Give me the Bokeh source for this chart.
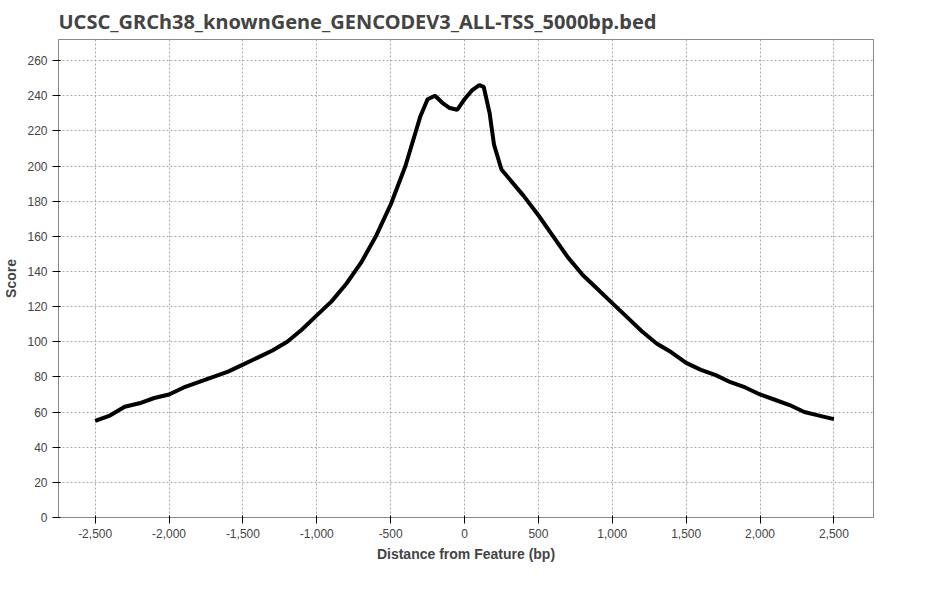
from bokeh.plotting import figure
from bokeh.models import Legend, NumeralTickFormatter, SingleIntervalTicker, Range1d
from bokeh.embed import file_html
from bokeh.resources import INLINE

distance = [-2500, -2400, -2300, -2200, -2100, -2000, -1900, -1800, -1700, -1600,
            -1500, -1400, -1300, -1200, -1100, -1000, -900, -800, -700, -600,
            -500, -400, -300, -250, -200, -150, -100, -50, 0, 50, 100, 130, 170,
            200, 250, 300, 400, 500, 600, 700, 800, 900, 1000, 1100, 1200, 1300,
            1400, 1500, 1600, 1700, 1800, 1900, 2000, 2100, 2200, 2300, 2400, 2500]
score = [55, 58, 63, 65, 68, 70, 74, 77, 80, 83,
         87, 91, 95, 100, 107, 115, 123, 133, 145, 160,
         178, 200, 228, 238, 240, 236, 233, 232, 238, 243, 246, 245, 230,
         212, 198, 193, 183, 172, 160, 148, 138, 130, 122, 114, 106, 99,
         94, 88, 84, 81, 77, 74, 70, 67, 64, 60, 58, 56]

p = figure(frame_width=815, frame_height=478, output_backend="svg", toolbar_location=None,
           title="UCSC_GRCh38_knownGene_GENCODEV3_ALL-TSS_5000bp.bed",
           x_axis_label="Distance from Feature (bp)", y_axis_label="Score",
           x_range=Range1d(-2748, 2768), y_range=Range1d(0, 272),
           min_border_left=10, min_border_right=30, min_border_bottom=5)
p.title.text_font = "Noto Sans"
p.title.text_font_size = "20px"
p.title.text_font_style = "bold"

r = p.line(distance, score, line_width=4, color="black")

p.xaxis.ticker = SingleIntervalTicker(interval=500)
p.yaxis.ticker = SingleIntervalTicker(interval=20)
p.xaxis.formatter = NumeralTickFormatter(format="0,0")
for ax in (p.xaxis, p.yaxis):
    ax.minor_tick_line_color = None
    ax.major_label_text_font_size = "12px"
    ax.axis_label_text_font_size = "14px"
    ax.axis_label_text_font_style = "bold"
    ax.axis_label_text_color = "#444444"
    ax.axis_line_color = "#888888"
p.grid.grid_line_color = "#aaaaaa"
p.grid.grid_line_dash = "2 2"
p.outline_line_color = "#888888"

legend = Legend(items=[("Data", [r])], orientation="horizontal",
                location="top_center", border_line_color=None,
                label_text_font_size="11px", glyph_width=20, padding=0, margin=4)
p.add_layout(legend, "below")

open("out.html", "w").write(file_html(p, INLINE))
